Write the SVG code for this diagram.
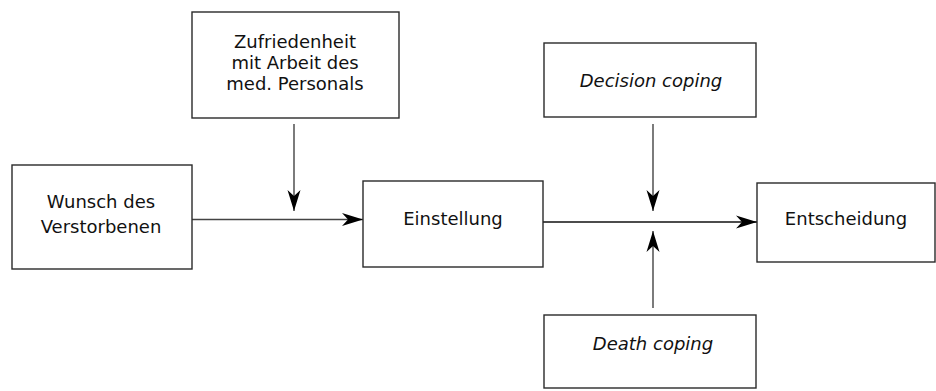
<svg xmlns="http://www.w3.org/2000/svg" width="936" height="391" viewBox="0 0 936 391">
<style>
.box{fill:#fff;stroke:#2a2a2a;stroke-width:1.4}
.t{font-family:"DejaVu Sans",sans-serif;font-size:18px;fill:#111;text-anchor:middle}
.i{font-style:italic}
.c{stroke:#444;stroke-width:1.4;fill:none}
.d{stroke:#111}
</style>
<defs>
<marker id="ah" markerUnits="userSpaceOnUse" markerWidth="24" markerHeight="16" viewBox="-22 -8 24 16" refX="0" refY="0" orient="auto">
<path d="M0,0 L-21,-6.5 L-15,0 L-21,6.5 Z" fill="#000"/>
</marker>
</defs>
<rect width="936" height="391" fill="#fff"/>
<g id="connectors">
<line class="c" x1="192" y1="219.5" x2="363" y2="219.5" marker-end="url(#ah)"/>
<line class="c" x1="294" y1="124" x2="294" y2="211" marker-end="url(#ah)"/>
<line class="c d" x1="543" y1="222" x2="757" y2="222" marker-end="url(#ah)"/>
<line class="c" x1="653" y1="124" x2="653" y2="211" marker-end="url(#ah)"/>
<line class="c" x1="653" y1="308" x2="653" y2="231" marker-end="url(#ah)"/>
</g>
<g id="zufriedenheit">
<rect class="box" x="192" y="12" width="207" height="106"/>
<text class="t" x="295" y="48">Zufriedenheit</text>
<text class="t" x="295" y="69">mit Arbeit des</text>
<text class="t" x="295" y="90">med. Personals</text>
</g>
<g id="wunsch">
<rect class="box" x="12" y="165" width="180" height="104"/>
<text class="t" x="101" y="208">Wunsch des</text>
<text class="t" x="101" y="233">Verstorbenen</text>
</g>
<g id="einstellung">
<rect class="box" x="363" y="181" width="180" height="86"/>
<text class="t" x="453" y="225">Einstellung</text>
</g>
<g id="entscheidung">
<rect class="box" x="757" y="183" width="178" height="79"/>
<text class="t" x="846" y="225">Entscheidung</text>
</g>
<g id="decision">
<rect class="box" x="544" y="43" width="212" height="74"/>
<text class="t i" x="651" y="87">Decision coping</text>
</g>
<g id="death">
<rect class="box" x="544" y="315" width="212" height="73"/>
<text class="t i" x="653" y="350">Death coping</text>
</g>
</svg>
